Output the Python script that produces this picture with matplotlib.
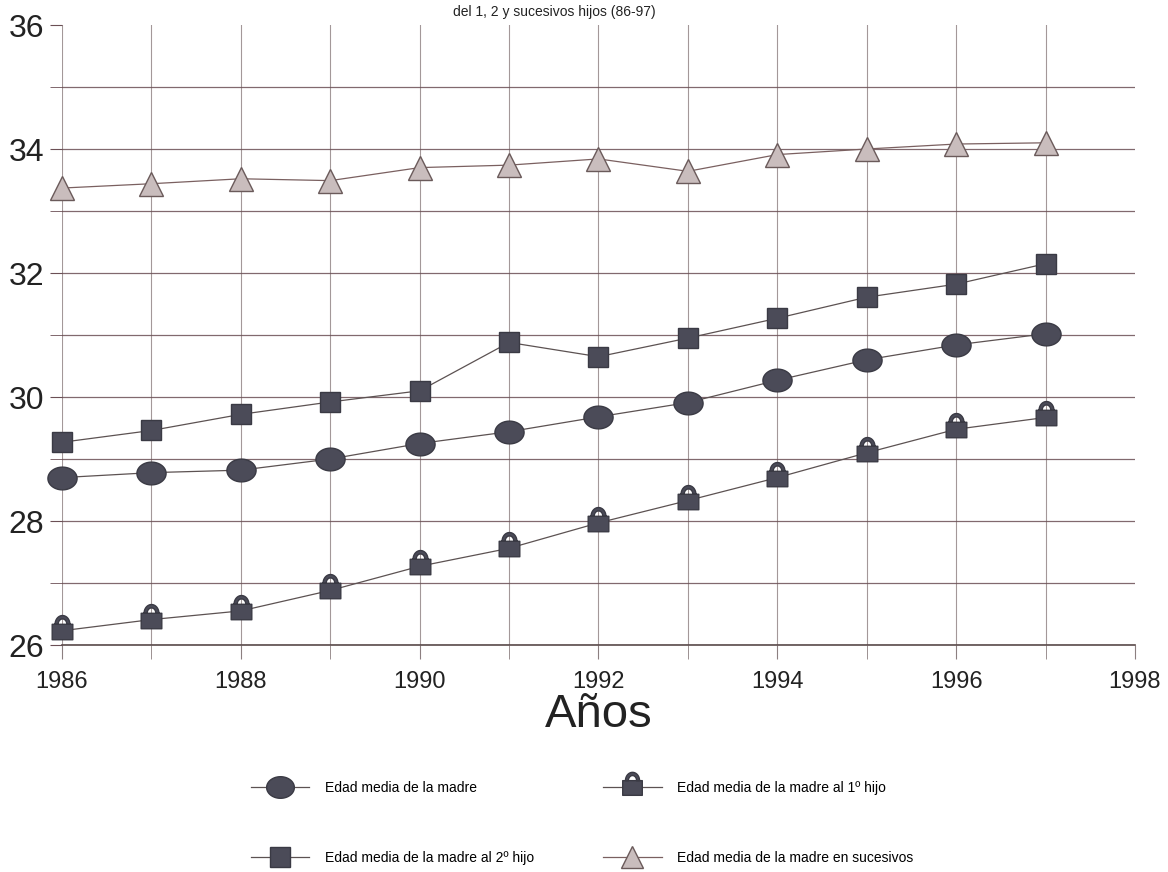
import numpy as np
import matplotlib
matplotlib.use("Agg")
import matplotlib.pyplot as plt
from matplotlib.path import Path

plt.rcParams['font.family'] = ['Liberation Sans', 'DejaVu Sans']

# data
years = [1986, 1987, 1988, 1989, 1990, 1991, 1992, 1993, 1994, 1995, 1996, 1997]
madre = [28.70, 28.78, 28.82, 29.00, 29.25, 29.44, 29.68, 29.91, 30.27, 30.60, 30.84, 31.02]
hijo1 = [26.23, 26.41, 26.55, 26.88, 27.27, 27.56, 27.97, 28.33, 28.70, 29.10, 29.48, 29.67]
hijo2 = [29.27, 29.46, 29.72, 29.92, 30.10, 30.88, 30.65, 30.95, 31.27, 31.61, 31.82, 32.15]
sucesivos = [33.37, 33.44, 33.52, 33.49, 33.70, 33.74, 33.84, 33.64, 33.91, 34.00, 34.08, 34.10]

labels = ["Edad media de la madre", "Edad media de la madre al 2º hijo",
          "Edad media de la madre al 1º hijo", "Edad media de la madre en sucesivos"]

# ellipse marker (wider than tall)
t = np.linspace(0, 2 * np.pi, 60)
ellipse = Path(np.column_stack([np.cos(t), 0.78 * np.sin(t)]), closed=True)

# padlock marker: square body + arched shackle
body = [(-1, -0.8), (1, -0.8), (1, 0.7), (-1, 0.7), (-1, -0.8)]
a = np.linspace(0, np.pi, 25)
outer = np.column_stack([0.72 * np.cos(a), 0.7 + 0.85 * np.sin(a)])
inner = np.column_stack([0.42 * np.cos(a[::-1]), 0.7 + 0.52 * np.sin(a[::-1])])
shackle = np.vstack([outer, inner, outer[:1]])
verts = np.vstack([body, shackle])
codes = ([Path.MOVETO] + [Path.LINETO] * 3 + [Path.CLOSEPOLY]
         + [Path.MOVETO] + [Path.LINETO] * (len(shackle) - 2) + [Path.CLOSEPOLY])
lock = Path(verts, codes)

dark = '#4b4b58'
edge = '#3a3a44'
linec = '#5c5252'

fig = plt.figure(figsize=(11.68, 8.72), dpi=100)
ax = fig.add_axes([62 / 1168, 1 - 645 / 872, (1135 - 62) / 1168, 620 / 872])

l1, = ax.plot(years, madre, color=linec, lw=0.9, marker=ellipse, ms=21,
              mfc=dark, mec=edge, zorder=4, clip_on=False)
l3, = ax.plot(years, hijo1, color=linec, lw=0.9, marker=lock, ms=23,
              mfc=dark, mec=edge, zorder=4, clip_on=False)
l2, = ax.plot(years, hijo2, color=linec, lw=0.9, marker='s', ms=14.5,
              mfc=dark, mec=edge, zorder=4, clip_on=False)
l4, = ax.plot(years, sucesivos, color='#7a6060', lw=0.9, marker='^', ms=17,
              mfc='#c9bdbd', mec='#6a5a5a', zorder=4, clip_on=False)

ax.set_xlim(1986, 1998)
ax.set_ylim(26, 36)
ax.set_xticks(range(1986, 1999, 2))
ax.set_xticks(range(1987, 1998, 2), minor=True)
ax.set_yticks(range(26, 37, 2))
ax.set_yticks(range(27, 36, 2), minor=True)
ax.tick_params(axis='x', which='both', length=10, labelsize=17, pad=9,
               color='#8c7f80', labelcolor='#222222')
ax.tick_params(axis='y', which='both', length=9, labelsize=23, pad=4,
               color='#6b4f55', labelcolor='#222222')

ax.grid(True, axis='y', which='both', color='#6b4f55', lw=0.9, alpha=0.85)
ax.grid(True, axis='x', which='both', color='#8c7f80', lw=0.8, alpha=0.8)
# no gridline along the top (36) or at 1998
ax.yaxis.get_major_ticks()[-1].gridline.set_visible(False)
ax.xaxis.get_major_ticks()[-1].gridline.set_visible(False)
for s in ['top', 'right', 'left']:
    ax.spines[s].set_visible(False)
ax.spines['bottom'].set_color('#5a4a4a')
ax.spines['bottom'].set_linewidth(1.2)

ax.set_xlabel("Años", fontsize=34, color='#222222', labelpad=0)

fig.text(0.475, 0.986, "del 1, 2 y sucesivos hijos (86-97)", fontsize=10,
         ha='center', va='center', color='#222222')

fig.legend([l1, l2, l3, l4], labels, loc='upper left',
           bbox_to_anchor=(251 / 1168, 1 - 781 / 872), bbox_transform=fig.transFigure,
           ncol=2, frameon=False, fontsize=10, borderaxespad=0, borderpad=0,
           handlelength=4.2, handletextpad=1.1, labelspacing=4.05, columnspacing=5.0,
           markerscale=0.95)

fig.savefig("out.png", dpi=100)
